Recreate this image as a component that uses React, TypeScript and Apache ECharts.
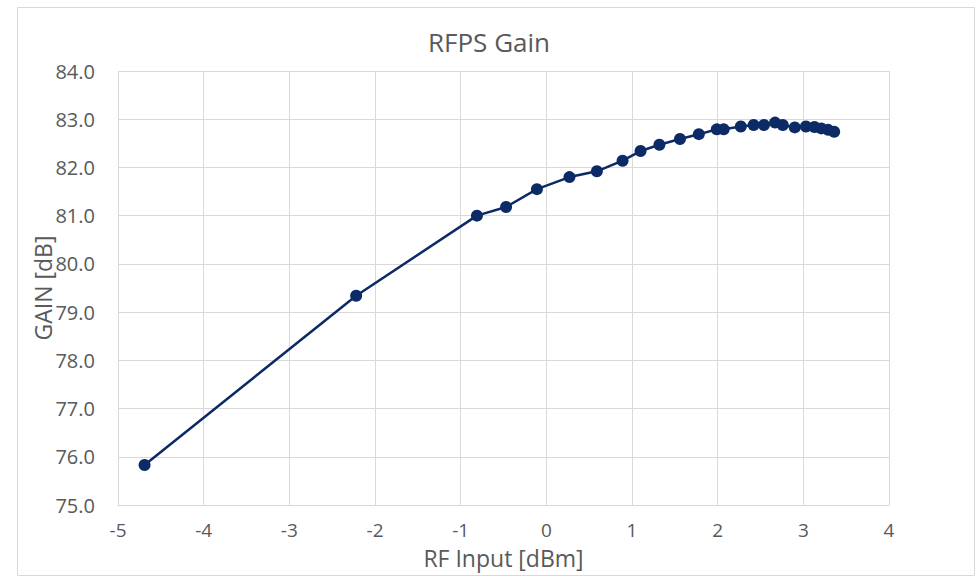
import React, { useEffect, useRef } from "react";
import * as echarts from "echarts";

const rfInput: number[] = [
  -4.69, -2.22, -0.81, -0.47, -0.11, 0.27, 0.59, 0.89, 1.1, 1.32, 1.56, 1.78,
  1.99, 2.07, 2.27, 2.42, 2.54, 2.67, 2.76, 2.9, 3.03, 3.13, 3.21, 3.29, 3.36,
];
const gain: number[] = [
  75.83, 79.34, 81.0, 81.18, 81.55, 81.8, 81.92, 82.14, 82.34, 82.47, 82.59, 82.69,
  82.79, 82.79, 82.85, 82.88, 82.88, 82.93, 82.88, 82.83, 82.85, 82.84, 82.81, 82.78, 82.74,
];
const chartTitle = "RFPS Gain";
const xName = "RF Input [dBm]";
const yName = "GAIN [dB]";

const FONT = "'Open Sans', 'Noto Sans', sans-serif";
const TEXT = "#595959";
const GRID = "#d9d9d9";

export default function App() {
  const ref = useRef<HTMLDivElement>(null);
  useEffect(() => {
    if (!ref.current) return;
    const chart = echarts.init(ref.current, undefined, { renderer: "svg" });
    chart.setOption({
      animation: false,
      backgroundColor: "#ffffff",
      title: {
        text: chartTitle,
        left: "center",
        top: 24,
        textStyle: { color: TEXT, fontSize: 26, fontWeight: "normal", fontFamily: FONT },
      },
      grid: { left: 118, right: 89, top: 71, bottom: 74 },
      xAxis: {
        type: "value",
        min: -5,
        max: 4,
        interval: 1,
        name: xName,
        nameLocation: "middle",
        nameGap: 38,
        nameTextStyle: { color: TEXT, fontSize: 23, fontFamily: FONT, lineHeight: 26 },
        axisLine: { show: true, lineStyle: { color: GRID } },
        axisTick: { show: false },
        axisLabel: { color: TEXT, fontSize: 19, fontFamily: FONT, margin: 14, lineHeight: 21 },
        splitLine: { show: true, lineStyle: { color: GRID, width: 1 } },
      },
      yAxis: {
        type: "value",
        min: 75,
        max: 84,
        interval: 1,
        name: yName,
        nameLocation: "middle",
        nameGap: 64,
        nameMoveOverlap: false,
        nameTextStyle: { color: TEXT, fontSize: 23, fontFamily: FONT },
        axisLine: { show: true, lineStyle: { color: GRID } },
        axisTick: { show: false },
        axisLabel: {
          color: TEXT,
          fontSize: 20,
          fontFamily: FONT,
          margin: 23,
          formatter: (v: number) => v.toFixed(1),
        },
        splitLine: { show: true, lineStyle: { color: GRID, width: 1 } },
      },
      graphic: [
        {
          type: "rect",
          shape: { x: 17.5, y: 7.5, width: 957, height: 568 },
          style: { fill: "none", stroke: GRID, lineWidth: 1 },
          silent: true,
          z: -1,
        },
      ],
      series: [
        {
          type: "line",
          data: rfInput.map((x, i) => [x, gain[i]]),
          symbol: "circle",
          symbolSize: 12,
          lineStyle: { color: "#0c2a66", width: 2.5 },
          itemStyle: { color: "#0c2a66" },
        },
      ],
    });
    return () => chart.dispose();
  }, []);
  return (
    <div
      ref={ref}
      style={{ position: "fixed", left: 0, top: 0, width: 978, height: 579 }}
    />
  );
}
